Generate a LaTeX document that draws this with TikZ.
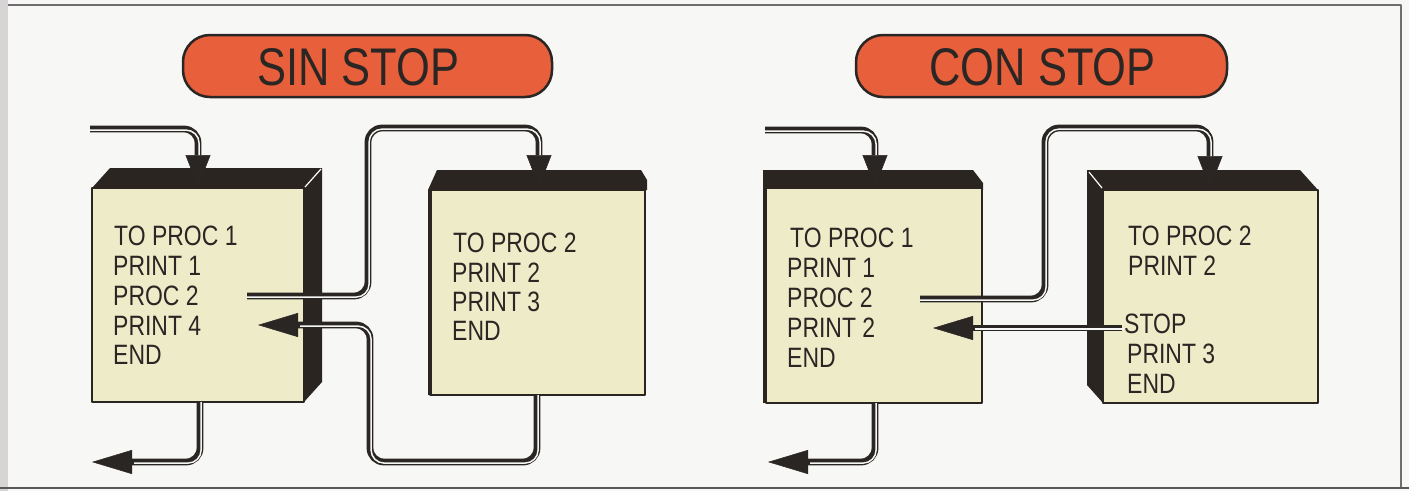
\documentclass[tikz,border=0pt]{standalone}
\usepackage{fontspec}
\newfontfamily\bxfont[FakeStretch=0.82]{Liberation Sans}
\usetikzlibrary{arrows.meta}
\definecolor{bg}{HTML}{F7F7F5}
\definecolor{cream}{HTML}{EEEBC9}
\definecolor{dark}{HTML}{2B2522}
\definecolor{pillc}{HTML}{E85F3B}
\definecolor{ink}{HTML}{2A2624}
\definecolor{strip}{HTML}{D6D4D4}
\definecolor{framec}{HTML}{6E6E6E}
\newcommand\pipe[3]{%
  \draw[pipeout,#1] #3;
  \begin{scope}[transform canvas={shift={(1.1pt,-1.1pt)}}]
    \draw[pipein,#2] #3;
  \end{scope}}
\begin{document}
\begin{tikzpicture}[x=1pt,y=-1pt,line join=round,
  pipeout/.style={draw=ink,line width=6.8pt,rounded corners=14pt},
  pipein/.style={draw=bg,line width=1.5pt,rounded corners=13pt,shorten <=-1pt},
  tipv/.style={-{Triangle[length=32pt,width=25pt,line width=0.5pt]}},
  tiph/.style={-{Triangle[length=40pt,width=24pt,line width=0.5pt]}},
  face/.style={fill=cream,draw=dark,line width=2.4pt},
  hl/.style={draw=white,line width=1.2pt},
  pill/.style={fill=pillc,draw=ink,line width=2.5pt,rounded corners=27pt},
  tx/.style={font=\bxfont\fontsize{28}{30}\selectfont,text=ink,anchor=base west,inner sep=0pt},
  ttl/.style={font=\bxfont\fontsize{53}{55}\selectfont,text=ink,anchor=base,inner sep=0pt}]
\useasboundingbox (0,0) rectangle (1409,491);
% background and frame
\fill[bg] (0,0) rectangle (1409,491);
\fill[strip] (0,0) rectangle (8,491);
\draw[framec,line width=1.5pt] (8,5) -- (1401,5) -- (1401,488);
\draw[framec!80!black,line width=2.6pt] (0,488) -- (1409,488);
% title pills
\draw[pill] (183,35) rectangle (552,97);
\node[ttl] (sintitle) at (358.5,85) {SIN STOP};
\draw[pill] (856,35) rectangle (1227,97);
\node[ttl] (contitle) at (1042.5,85) {CON STOP};
% box 1 (SIN, left)
\fill[dark] (92,188) -- (110,168) -- (322,168) -- (322,382) -- (304,402) -- cycle;
\draw[face] (92,188) rectangle (304,402);
\draw[hl] (305,187) -- (321,169);
% box 2 (SIN, right)
\fill[dark] (428,190) -- (437,170) -- (641,170) -- (647,180) -- (647,190) -- cycle;
\draw[face] (430,190) rectangle (645,395);
\draw[dark,line width=4pt] (430,190) -- (430,395);
% box 3 (CON, left)
\fill[dark] (763,190) -- (763,170) -- (973,170) -- (983,183) -- (983,190) -- cycle;
\draw[face] (766,188) rectangle (982,403);
\draw[dark,line width=4.5pt] (765,188) -- (765,403);
% box 4 (CON, right)
\fill[dark] (1318,190) -- (1300,170) -- (1087,170) -- (1087,385) -- (1103,403) -- cycle;
\draw[face] (1103,190) rectangle (1318,403);
\draw[hl] (1089,172) -- (1102,188);
% texts box 1
\node[tx] (a1) at (114,245) {TO PROC 1};
\node[tx] (a2) at (113,275) {PRINT 1};
\node[tx] (a3) at (113,305) {PROC 2};
\node[tx] (a4) at (113,335) {PRINT 4};
\node[tx] (a5) at (113,364) {END};
% texts box 2
\node[tx] (b1) at (453,252) {TO PROC 2};
\node[tx] (b2) at (452,282) {PRINT 2};
\node[tx] (b3) at (452,311) {PRINT 3};
\node[tx] (b4) at (452,340) {END};
% texts box 3
\node[tx] (c1) at (790,247) {TO PROC 1};
\node[tx] (c2) at (787,277) {PRINT 1};
\node[tx] (c3) at (787,307) {PROC 2};
\node[tx] (c4) at (787,337) {PRINT 2};
\node[tx] (c5) at (787,367) {END};
% texts box 4
\node[tx] (d1) at (1128,245) {TO PROC 2};
\node[tx] (d2) at (1128,275) {PRINT 2};
\node[tx] (d3) at (1124,333) {STOP};
\node[tx] (d4) at (1127,363) {PRINT 3};
\node[tx] (d5) at (1127,393) {END};
% connector end points
\coordinate (in1) at (90,129);
\coordinate (t1) at (198,187);
\coordinate (s2) at (247,296);
\coordinate (v2) at (368,128);
\coordinate (t2) at (539,187);
\coordinate (s3) at (537,395);
\coordinate (v3) at (370,462);
\coordinate (t3) at (258,325);
\coordinate (s4) at (200,402);
\coordinate (t4) at (92,462);
\coordinate (in5) at (765,130);
\coordinate (t5) at (875,187);
\coordinate (s6) at (920,299);
\coordinate (v6) at (1045,128);
\coordinate (t6) at (1210,188);
\coordinate (s7) at (1122,328);
\coordinate (t7) at (933,328);
\coordinate (s8) at (875,403);
\coordinate (t8) at (768,462);
% connectors SIN STOP
\pipe{tipv}{shorten >=33pt}{(in1) -| (t1)}
\pipe{tipv}{shorten >=33pt}{(s2) -| (v2) -| (t2)}
\pipe{tiph}{shorten >=41pt}{(s3) |- (v3) |- (t3)}
\pipe{tiph}{shorten >=41pt}{(s4) |- (t4)}
% connectors CON STOP
\pipe{tipv}{shorten >=33pt}{(in5) -| (t5)}
\pipe{tipv}{shorten >=33pt}{(s6) -| (v6) -| (t6)}
\pipe{tiph}{shorten >=41pt}{(s7) -- (t7)}
\pipe{tiph}{shorten >=41pt}{(s8) |- (t8)}
\end{tikzpicture}
\end{document}
